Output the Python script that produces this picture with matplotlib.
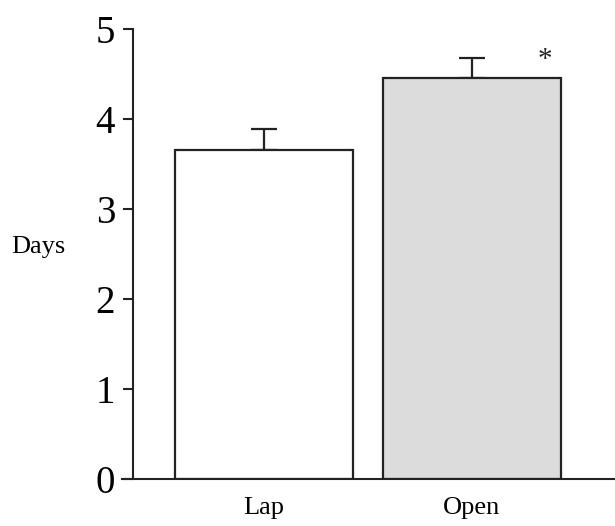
import matplotlib
matplotlib.use("Agg")
import matplotlib.pyplot as plt
import numpy as np

# bar chart data
groups = ["Lap", "Open"]
means = [3.66, 4.46]
sems = [0.23, 0.22]
fills = ["white", "#dcdcdc"]
yticks = [0, 1, 2, 3, 4, 5]

plt.rcParams["font.family"] = ["Liberation Serif", "DejaVu Serif"]

fig = plt.figure(figsize=(6.15, 5.26), dpi=100)
ax = fig.add_axes([121.7 / 615, 0.0903, 1 - 121.7 / 615, 0.9443 - 0.0903])

x = np.arange(len(groups))
edge = "#222222"
ax.bar(x, means, width=0.856, color=fills, edgecolor=edge, linewidth=1.6, zorder=2)
ax.errorbar(x, means, yerr=[np.zeros(len(sems)), sems], fmt="none",
            ecolor=edge, elinewidth=1.6, capsize=9.7, capthick=1.6, zorder=1)

# significance mark next to Open bar
ax.text(x[1] + 0.35, means[1] + sems[1] - 0.02, "*", ha="center", va="center",
        fontsize=21, color=edge)

ax.set_xlim(-0.683, 1.689)
ax.set_ylim(0, 5)
ax.set_yticks(yticks)
ax.set_xticks(x)
ax.set_xticklabels(groups, fontsize=19)
ax.tick_params(axis="x", length=0, pad=13)
ax.tick_params(axis="y", length=7, width=1.5, pad=6, labelsize=28, color=edge)

for s in ["top", "right"]:
    ax.spines[s].set_visible(False)
ax.spines["left"].set_position(("axes", (133 - 121.7) / (615 - 121.7)))
ax.spines["left"].set_linewidth(1.5)
ax.spines["bottom"].set_linewidth(1.5)
ax.spines["left"].set_color(edge)
ax.spines["bottom"].set_color(edge)

ax.set_ylabel("Days", rotation=0, fontsize=19, ha="center", va="center")
ax.yaxis.set_label_coords((38 - 121.7) / (615 - 121.7), (478.5 - 247) / (478.5 - 29.3))

fig.savefig("out.png", dpi=100)
